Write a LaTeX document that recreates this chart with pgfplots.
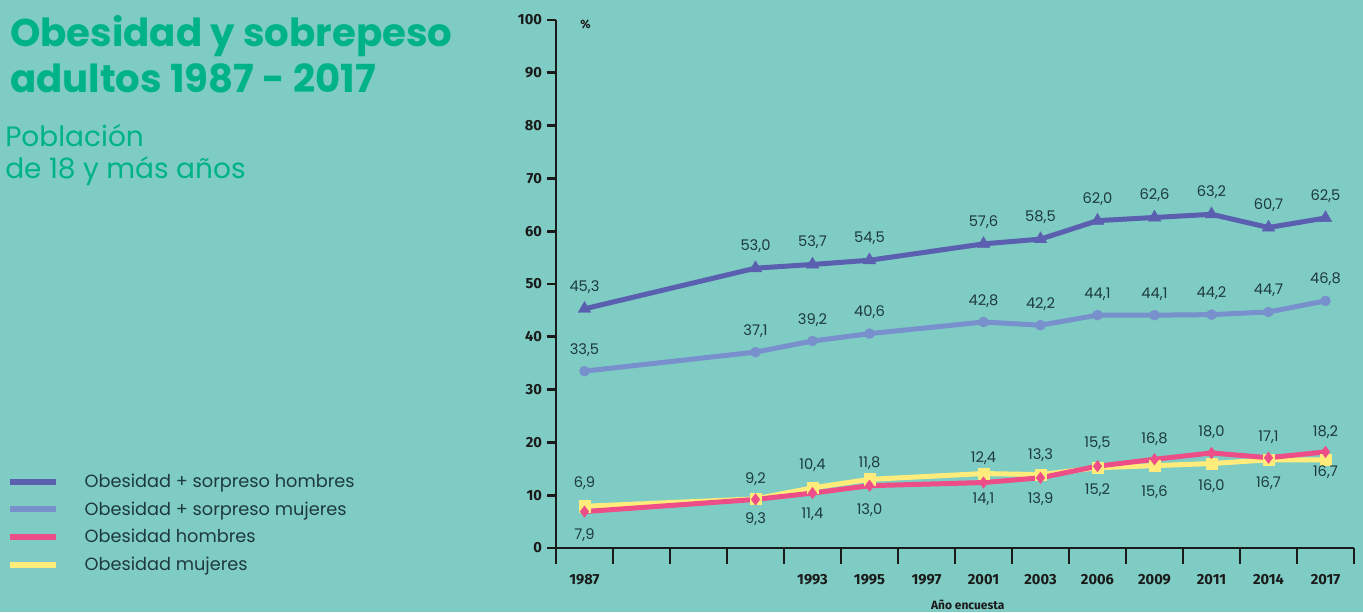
\documentclass[border=0pt]{standalone}
\usepackage{pgfplots}
\pgfplotsset{compat=1.18}
\usepackage{fontspec}
\setmainfont{Poppins}
\newfontfamily\tickfont{Fira Sans}
\definecolor{bg}{HTML}{7ECCC3}
\definecolor{ttl}{HTML}{00B287}
\definecolor{cA}{HTML}{5A5FAF}
\definecolor{cB}{HTML}{7891CD}
\definecolor{cC}{HTML}{EE4E88}
\definecolor{cD}{HTML}{FFEC7A}
\definecolor{txt}{HTML}{1E3A3E}
\definecolor{axc}{HTML}{1A1A1A}

\pgfplotstableread{
x y l
0 45.3 45,3
3 53.0 53,0
4 53.7 53,7
5 54.5 54,5
7 57.6 57,6
8 58.5 58,5
9 62.0 62,0
10 62.6 62,6
11 63.2 63,2
12 60.7 60,7
13 62.5 62,5
}\sobH
\pgfplotstableread{
x y l
0 33.5 33,5
3 37.1 37,1
4 39.2 39,2
5 40.6 40,6
7 42.8 42,8
8 42.2 42,2
9 44.1 44,1
10 44.1 44,1
11 44.2 44,2
12 44.7 44,7
13 46.8 46,8
}\sobM
\pgfplotstableread{
x y ly l
0 6.9 12.3 6,9
3 9.2 13.1 9,2
4 10.4 15.6 10,4
5 11.8 16.1 11,8
7 12.4 17.1 12,4
8 13.3 17.5 13,3
9 15.5 19.9 15,5
10 16.8 20.7 16,8
11 18.0 22.0 18,0
12 17.1 20.9 17,1
13 18.2 22.0 18,2
}\obH
\pgfplotstableread{
x y ly l
0 7.9 2.5 7,9
3 9.3 5.5 9,3
4 11.4 6.3 11,4
5 13.0 7.2 13,0
7 14.1 9.3 14,1
8 13.9 9.3 13,9
9 15.2 11.0 15,2
10 15.6 10.6 15,6
11 16.0 11.8 16,0
12 16.7 12.3 16,7
13 16.7 14.4 16,7
}\obM

\begin{document}
\begin{tikzpicture}
\path[use as bounding box, fill=bg] (0,0) rectangle (1022.25pt,459pt);
\node[anchor=base west, inner sep=0pt, text=ttl, font=\fontsize{29}{29}\selectfont\bfseries] at (7.5pt,423.75pt) {Obesidad y sobrepeso};
\node[anchor=base west, inner sep=0pt, text=ttl, font=\fontsize{29}{29}\selectfont\bfseries] at (7.5pt,389.25pt) {adultos 1987 - 2017};
\node[anchor=base west, inner sep=0pt, text=ttl, font=\fontsize{21}{21}\selectfont] at (3.75pt,348.75pt) {Población};
\node[anchor=base west, inner sep=0pt, text=ttl, font=\fontsize{21}{21}\selectfont] at (3.75pt,325.5pt) {de 18 y más años};
\begin{axis}[
  at={(417pt,48pt)}, anchor=south west,
  scale only axis, width=598.5pt, height=396pt,
  xmin=-0.5, xmax=13.5, ymin=0, ymax=100,
  axis lines=left, axis line style={-, line width=2.2pt, draw=axc},
  tick align=outside,
  tick style={line width=2.2pt, draw=axc},
  xtick={0,...,13},
  xticklabels={1987,,,,1993,1995,1997,2001,2003,2006,2009,2011,2014,2017},
  major x tick style={draw=none},
  minor xtick={-0.5,0.5,...,13.5},
  minor tick length=12pt,
  major tick length=7pt,
  ytick={0,10,...,100},
  /pgf/number format/assume math mode=true,
  xticklabel style={font=\tickfont\bfseries\fontsize{11}{11}\selectfont, text=axc, yshift=-9pt},
  yticklabel style={font=\tickfont\bfseries\fontsize{11}{11}\selectfont, text=axc},
  xlabel={Año encuesta},
  xlabel style={font=\tickfont\bfseries\fontsize{9}{9}\selectfont, text=axc, at={(axis description cs:0.516,-0.108)}, anchor=center},
  clip=false,
  legend style={draw=none, fill=none, at={(axis description cs:-0.693,0.047)}, anchor=west,
    font=\fontsize{13.3}{13.3}\selectfont, text=txt, row sep=9.2pt,
    nodes={inner sep=0pt},
    /tikz/every odd column/.append style={column sep=19.5pt}},
  legend cell align=left,
  legend image code/.code={\draw[#1] (0pt,0pt) -- (34pt,0pt);},
]
\addlegendimage{cA, line width=4.5pt}
\addlegendimage{cB, line width=4.5pt}
\addlegendimage{cC, line width=4.5pt}
\addlegendimage{cD, line width=4.5pt}
\legend{Obesidad + sorpreso hombres, Obesidad + sorpreso mujeres, Obesidad hombres, Obesidad mujeres}

\addplot[forget plot, cA, line width=3.75pt, mark=triangle*, mark size=5.5pt, mark options={line width=0.3pt, fill=cA},
  nodes near coords, point meta=explicit symbolic,
  nodes near coords style={font=\fontsize{11}{11}\selectfont, text=txt, anchor=center, yshift=16.5pt}]
  table[x=x, y=y, meta=l] {\sobH};
\addplot[forget plot, cB, line width=3.75pt, mark=*, mark size=3.8pt, mark options={line width=0.3pt, fill=cB},
  nodes near coords, point meta=explicit symbolic,
  nodes near coords style={font=\fontsize{11}{11}\selectfont, text=txt, anchor=center, yshift=16pt}]
  table[x=x, y=y, meta=l] {\sobM};
\addplot[forget plot, cD, line width=3.75pt, mark=square*, mark size=4.3pt, mark options={line width=0.3pt, fill=cD}]
  table[x=x, y=y] {\obM};
\addplot[forget plot, cC, line width=3.75pt, mark=diamond*, mark size=4.3pt, mark options={line width=0.3pt, fill=cC}]
  table[x=x, y=y] {\obH};
\addplot[forget plot, draw=none, mark=none, nodes near coords, point meta=explicit symbolic,
  nodes near coords style={font=\fontsize{11}{11}\selectfont, text=txt, anchor=center}]
  table[x=x, y=ly, meta=l] {\obH};
\addplot[forget plot, draw=none, mark=none, nodes near coords, point meta=explicit symbolic,
  nodes near coords style={font=\fontsize{11}{11}\selectfont, text=txt, anchor=center}]
  table[x=x, y=ly, meta=l] {\obM};
\node[font=\tickfont\bfseries\fontsize{9}{9}\selectfont, text=axc] at (rel axis cs:0.037,0.992) {\%};
\end{axis}
\end{tikzpicture}
\end{document}
